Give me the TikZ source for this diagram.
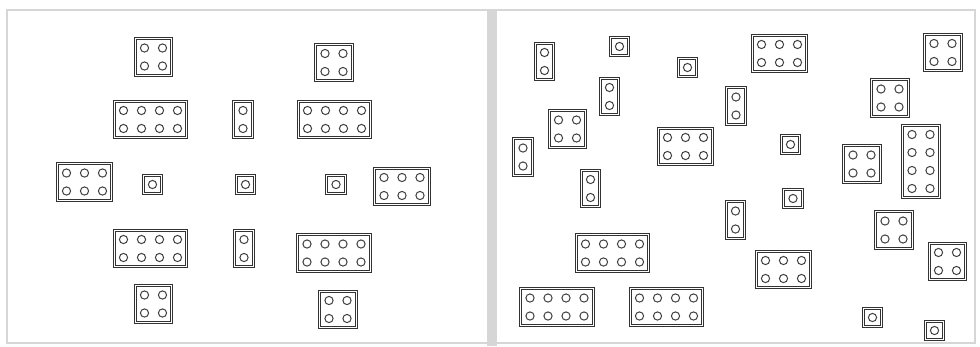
\documentclass[tikz,border=0pt]{standalone}
\usetikzlibrary{positioning}

\tikzset{
  brick/.style={draw=black!80, double=white, double distance=1.1pt, line width=0.95pt, inner sep=0pt},
  stud/.style={draw=black!75, line width=1pt},
  frame/.style={draw=black!16, line width=1.2pt}
}

% \legobrick{name}{x}{y}{columns}{rows}
\newcommand{\legobrick}[5]{%
  \node[brick, minimum width=#4*18pt+0.5pt, minimum height=#5*18pt+0.5pt] (#1) at (#2,#3) {};
  \foreach \i in {1,...,#4}
    \foreach \j in {1,...,#5}
      \draw[stud, shift={(#1.center)}] ({(\i-(#4+1)/2)*18},{(\j-(#5+1)/2)*18}) circle (4.1);
}

\begin{document}
\begin{tikzpicture}[x=1pt, y=-1pt]
        \useasboundingbox (0,0) rectangle (980,346);
        % Frames
        \draw[frame] (7,10) rectangle (975,343);
        \fill[black!16] (487,10) rectangle (497,346);

        % Left panel
        \legobrick{l1}{153.5}{57}{2}{2}
        \legobrick{l2}{334}{62.5}{2}{2}
        \legobrick{l3}{150.5}{119.5}{4}{2}
        \legobrick{l4}{243}{119.5}{1}{2}
        \legobrick{l5}{334.5}{119.5}{4}{2}
        \legobrick{l6}{84.5}{182}{3}{2}
        \legobrick{l7}{152.5}{184.5}{1}{1}
        \legobrick{l8}{245.5}{184.5}{1}{1}
        \legobrick{l9}{336}{184.5}{1}{1}
        \legobrick{l10}{402}{186.5}{3}{2}
        \legobrick{l11}{150.5}{248.5}{4}{2}
        \legobrick{l12}{244}{248.5}{1}{2}
        \legobrick{l13}{334}{253}{4}{2}
        \legobrick{l14}{153.5}{304}{2}{2}
        \legobrick{l15}{338}{309.5}{2}{2}

        % Right panel
        \legobrick{r1}{544.5}{61.5}{1}{2}
        \legobrick{r2}{619.5}{46.5}{1}{1}
        \legobrick{r3}{687.5}{67.5}{1}{1}
        \legobrick{r4}{779.5}{53.5}{3}{2}
        \legobrick{r5}{943}{52.5}{2}{2}
        \legobrick{r6}{609.5}{96.5}{1}{2}
        \legobrick{r7}{736}{106}{1}{2}
        \legobrick{r8}{890}{98}{2}{2}
        \legobrick{r9}{567.5}{129}{2}{2}
        \legobrick{r10}{685.5}{146.5}{3}{2}
        \legobrick{r11}{790.5}{144.5}{1}{1}
        \legobrick{r12}{523}{157}{1}{2}
        \legobrick{r13}{862}{164}{2}{2}
        \legobrick{r14}{921}{161.5}{2}{4}
        \legobrick{r15}{590.5}{188.5}{1}{2}
        \legobrick{r16}{793}{198.5}{1}{1}
        \legobrick{r17}{735.5}{220}{1}{2}
        \legobrick{r18}{894}{230}{2}{2}
        \legobrick{r19}{612.5}{253}{4}{2}
        \legobrick{r20}{783.5}{269.5}{3}{2}
        \legobrick{r21}{947.5}{261.5}{2}{2}
        \legobrick{r22}{557}{307}{4}{2}
        \legobrick{r23}{666.5}{307}{4}{2}
        \legobrick{r24}{872.5}{317.5}{1}{1}
        \legobrick{r25}{934.5}{330.5}{1}{1}
\end{tikzpicture}
\end{document}
